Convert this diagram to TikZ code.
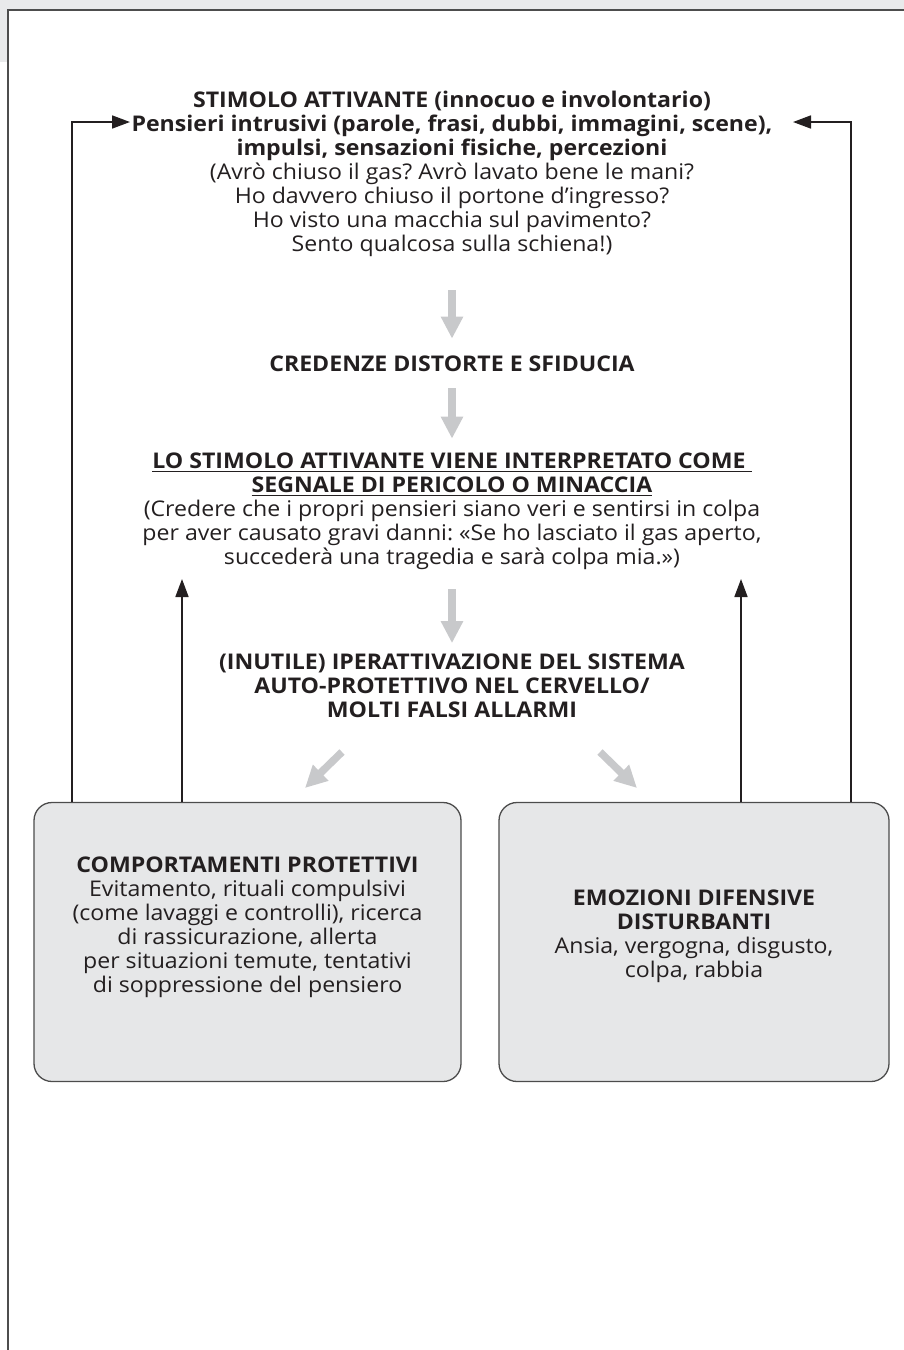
\documentclass[tikz,border=0pt]{standalone}
\usepackage{fontspec}
\setmainfont{Open Sans}[FakeStretch=1.07]
\frenchspacing
\usetikzlibrary{arrows.meta}
\definecolor{grigiofondo}{HTML}{E9EAEB}
\definecolor{grigiobox}{HTML}{E6E7E8}
\definecolor{grigiofreccia}{HTML}{C8C9CB}
\definecolor{cornice}{HTML}{4D4D4D}
\definecolor{inchiostro}{HTML}{231F20}
\begin{document}
\begin{tikzpicture}[x=0.5pt, y=-0.5pt, every node/.style={font=\fontsize{10.8}{12}\selectfont, text=inchiostro, align=center, inner sep=0pt},
	titolo/.style={font=\fontsize{10.8}{12}\selectfont\bfseries},
	freccia/.style={grigiofreccia, line width=3.75pt, -{Triangle[width=10.5pt,length=11pt]}},
	ritorno/.style={inchiostro, line width=0.85pt, -{Triangle[width=6.5pt,length=9pt]}},
	riquadro/.style={draw=black!70, fill=grigiobox, line width=0.65pt, rounded corners=9pt, minimum height=139.5pt}]
	\useasboundingbox (0,0) rectangle (904,1350);
	\fill[grigiofondo] (0,0) rectangle (904,10); \fill[grigiofondo] (0,0) rectangle (8,62);
	\draw[cornice, line width=1pt] (904,10) -- (8,10) -- (8,1350);
	\node (stimolo) at (452,174) {\textbf{STIMOLO ATTIVANTE (innocuo e involontario)}\\ \textbf{Pensieri intrusivi (parole, frasi, dubbi, immagini, scene),}\\ \textbf{impulsi, sensazioni fisiche, percezioni}\\ (Avrò chiuso il gas? Avrò lavato bene le mani?\\ Ho davvero chiuso il portone d’ingresso?\\ Ho visto una macchia sul pavimento?\\ Sento qualcosa sulla schiena!)};
	\node[titolo] (credenze) at (452,364) {CREDENZE DISTORTE E SFIDUCIA};
	\node (interpreta) at (452,511.5) {\textbf{\underline{LO STIMOLO ATTIVANTE VIENE INTERPRETATO COME\ }}\\ \textbf{\underline{SEGNALE DI PERICOLO O MINACCIA}}\\ (Credere che i propri pensieri siano veri e sentirsi in colpa\\ per aver causato gravi danni: «Se ho lasciato il gas aperto,\\ succederà una tragedia e sarà colpa mia.»)};
	\node[titolo] (iper) at (452,685.5) {(INUTILE) IPERATTIVAZIONE DEL SISTEMA\\ AUTO-PROTETTIVO NEL CERVELLO/\\ MOLTI FALSI ALLARMI};
	\node[riquadro, minimum width=213.5pt] (comport) at (247.5,942) {\textbf{COMPORTAMENTI PROTETTIVI}\\ Evitamento, rituali compulsivi\\ (come lavaggi e controlli), ricerca\\ di rassicurazione, allerta\\ per situazioni temute, tentativi\\ di soppressione del pensiero\rule[-17pt]{0pt}{0pt}};
	\node[riquadro, minimum width=195pt] (emozioni) at (694,942) {\textbf{EMOZIONI DIFENSIVE}\\ \textbf{DISTURBANTI}\\ Ansia, vergogna, disgusto,\\ colpa, rabbia\rule[-8pt]{0pt}{0pt}};
	\draw[freccia, shorten <=16.5pt, shorten >=8.5pt] (stimolo) -- (credenze);
	\draw[freccia, shorten <=8pt, shorten >=7pt] (credenze) -- (interpreta);
	\draw[freccia, shorten <=9.5pt, shorten >=5pt] (interpreta) -- (iper);
	\coordinate (diagSx) at (342,752); \coordinate (diagDx) at (600,752);
	\draw[freccia] (diagSx) -- ++(-37,36);
	\draw[freccia] (diagDx) -- ++(37,36);
	\coordinate (latoSx) at (72,122); \coordinate (rientroSx) at (130,122);
	\coordinate (latoDx) at (851,122); \coordinate (rientroDx) at (793,122);
	\coordinate (spintaSx) at (182,579); \coordinate (spintaDx) at (741,579);
	\draw[ritorno] (comport.north -| latoSx) -- (latoSx) -- (rientroSx);
	\draw[ritorno] (emozioni.north -| latoDx) -- (latoDx) -- (rientroDx);
	\draw[ritorno] (comport.north -| spintaSx) -- (spintaSx);
	\draw[ritorno] (emozioni.north -| spintaDx) -- (spintaDx);
\end{tikzpicture}
\end{document}
